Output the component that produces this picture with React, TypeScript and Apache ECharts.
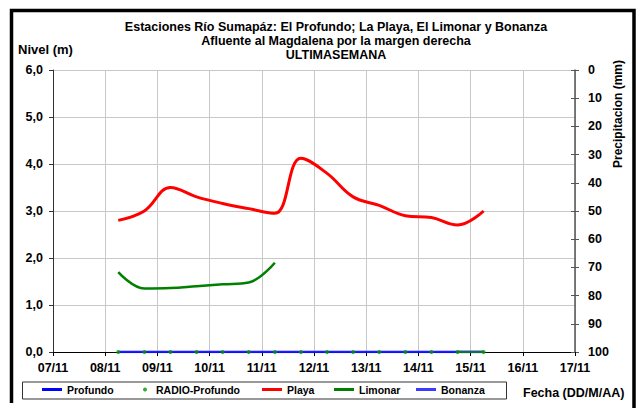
import React, { useEffect, useRef } from "react";
import * as echarts from "echarts";

const titleLines = [
  "Estaciones Río Sumapáz: El Profundo; La Playa, El Limonar y Bonanza",
  "Afluente al Magdalena por la margen derecha",
  "ULTIMASEMANA",
];
const dayLabels = ["07/11", "08/11", "09/11", "10/11", "11/11", "12/11", "13/11", "14/11", "15/11", "16/11", "17/11"];
const startTime = "2023-11-07 00:00";
const times = [
  "2023-11-08 06:00", "2023-11-08 18:00", "2023-11-09 06:00", "2023-11-09 18:00",
  "2023-11-10 06:00", "2023-11-10 18:00", "2023-11-11 06:00", "2023-11-11 18:00",
  "2023-11-12 06:00", "2023-11-12 18:00", "2023-11-13 06:00", "2023-11-13 18:00",
  "2023-11-14 06:00", "2023-11-14 18:00", "2023-11-15 06:00",
];
const profundo = [0, 0, 0, 0, 0, 0, 0, 0, 0, 0, 0, 0, 0, 0, 0];
const radioProfundo = [0, 0, 0, 0, 0, 0, 0, 0, 0, 0, 0, 0, 0, 0, 0];
const playa = [2.8, 3.0, 3.5, 3.3, 3.16, 3.05, 2.95, 4.12, 3.8, 3.3, 3.12, 2.9, 2.86, 2.7, 3.0];
const limonar = [1.7, 1.35, 1.36, 1.4, 1.44, 1.48, 1.9, null, null, null, null, null, null, 0, 0];
const bonanza = [0, 0, 0, 0, 0, 0, 0, 0, 0, 0, 0, 0, 0, 0, 0];
const levelTicks = { min: 0, max: 6, step: 1 };
const rainTicks = { min: 0, max: 100, step: 10 };

const DAY = 86400000;
const toDate = (s: string) => {
  const [d, t] = s.split(" ");
  const [y, m, dd] = d.split("-").map(Number);
  const [hh, mm] = t.split(":").map(Number);
  return new Date(y, m - 1, dd, hh, mm).getTime();
};
const t0 = toDate(startTime);
const xs = times.map((t) => (toDate(t) - t0) / DAY);
const pts = (vals: (number | null)[]) => vals.map((v, i) => [xs[i], v]);

const FONT = "'Liberation Sans', Arial, sans-serif";

export default function App() {
  const ref = useRef<HTMLDivElement>(null);
  useEffect(() => {
    document.body.style.margin = "0";
    const chart = echarts.init(ref.current!, null, { renderer: "svg" });
    const legendBase = {
      top: 384,
      itemWidth: 20,
      itemHeight: 3,
      icon: "rect",
      textStyle: { fontFamily: FONT, fontWeight: "bold", fontSize: 10.5, color: "#000" },
      selectedMode: false,
      padding: 0,
    };
    const rainAxisBase = {
      type: "value",
      position: "right",
      inverse: true,
      min: rainTicks.min,
      max: rainTicks.max,
      interval: rainTicks.step,
      splitLine: { show: false },
    };
    chart.setOption({
      animation: false,
      backgroundColor: "#fff",
      textStyle: { fontFamily: FONT },
      title: {
        text: titleLines.join("\n"),
        left: 331,
        top: 15,
        textAlign: "center",
        textStyle: { fontFamily: FONT, fontWeight: "bold", fontSize: 12.5, lineHeight: 14, color: "#000" },
      },
      grid: { left: 53, right: 65, top: 70, bottom: 56 },
      legend: [
        { ...legendBase, left: 42, data: ["Profundo"] },
        { ...legendBase, left: 143, itemWidth: 12, itemHeight: 4, icon: "circle", data: ["RADIO-Profundo"] },
        { ...legendBase, left: 262, data: ["Playa"] },
        { ...legendBase, left: 334, data: ["Limonar"] },
        { ...legendBase, left: 416, data: ["Bonanza"] },
      ],
      xAxis: {
        type: "value",
        min: 0,
        max: dayLabels.length - 1,
        interval: 1,
        axisLine: { show: true, onZero: false, lineStyle: { color: "#000", width: 1 } },
        axisTick: { show: true, length: 4, lineStyle: { color: "#000" } },
        splitLine: { show: true, lineStyle: { color: "#c8c8c8", width: 1 } },
        axisLabel: {
          margin: 9,
          fontFamily: FONT,
          fontWeight: "bold",
          fontSize: 12.5,
          color: "#000",
          formatter: (v: number) => dayLabels[Math.round(v)] ?? "",
        },
      },
      yAxis: [
        {
          type: "value",
          min: levelTicks.min,
          max: levelTicks.max,
          interval: levelTicks.step,
          axisLine: { show: true, lineStyle: { color: "#333", width: 1 } },
          axisTick: { show: true, length: 4, lineStyle: { color: "#333" } },
          splitLine: { show: true, lineStyle: { color: "#c8c8c8", width: 1 } },
          axisLabel: {
            margin: 10,
            fontFamily: FONT,
            fontWeight: "bold",
            fontSize: 12.5,
            color: "#000",
            formatter: (v: number) => v.toFixed(1).replace(".", ","),
          },
        },
        {
          ...rainAxisBase,
          axisLine: { show: true, lineStyle: { color: "#555", width: 1.5 } },
          axisTick: { show: true, length: 4, lineStyle: { color: "#555" } },
          axisLabel: {
            margin: 13,
            fontFamily: FONT,
            fontWeight: "bold",
            fontSize: 12.5,
            color: "#000",
          },
        },
        {
          ...rainAxisBase,
          axisLine: { show: false },
          axisTick: { show: true, inside: true, length: 4, lineStyle: { color: "#555" } },
          axisLabel: { show: false },
        },
      ],
      graphic: [
        {
          type: "polyline",
          shape: { points: [[11.5, 403], [11.5, 10.5], [634, 10.5], [634, 408]] },
          style: { stroke: "#000", lineWidth: 3.5, fill: "none" },
          z: 100,
        },
        {
          type: "rect",
          shape: { x: 22.5, y: 382, width: 484, height: 17 },
          style: { stroke: "#333", lineWidth: 1, fill: "#fff" },
          z: -1,
        },
        {
          type: "text",
          x: 18,
          y: 49,
          style: { text: "Nivel (m)", fontFamily: FONT, fontWeight: "bold", fontSize: 13, fill: "#000", textVerticalAlign: "middle" },
        },
        {
          type: "text",
          x: 618,
          y: 114,
          rotation: Math.PI / 2,
          style: {
            text: "Precipitacion (mm)",
            fontFamily: FONT,
            fontWeight: "bold",
            fontSize: 12,
            fill: "#000",
            textAlign: "center",
            textVerticalAlign: "middle",
          },
        },
        {
          type: "text",
          x: 523,
          y: 393,
          style: { text: "Fecha (DD/M/AA)", fontFamily: FONT, fontWeight: "bold", fontSize: 12.5, fill: "#000", textVerticalAlign: "middle" },
        },
      ],
      series: [
        {
          name: "Profundo",
          type: "line",
          data: pts(profundo),
          showSymbol: false,
          lineStyle: { color: "#0000ff", width: 2.5 },
          itemStyle: { color: "#0000ff" },
        },
        {
          name: "RADIO-Profundo",
          type: "scatter",
          data: pts(radioProfundo),
          symbol: "circle",
          symbolSize: 4,
          itemStyle: { color: "#009900" },
          z: 5,
        },
        {
          name: "Playa",
          type: "line",
          data: pts(playa),
          smooth: 0.4,
          showSymbol: false,
          lineStyle: { color: "#ff0000", width: 3 },
          itemStyle: { color: "#ff0000" },
        },
        {
          name: "Limonar",
          type: "line",
          data: pts(limonar),
          smooth: 0.4,
          showSymbol: false,
          connectNulls: false,
          lineStyle: { color: "#008000", width: 2.5 },
          itemStyle: { color: "#008000" },
        },
        {
          name: "Bonanza",
          type: "line",
          data: pts(bonanza),
          showSymbol: false,
          lineStyle: { color: "#3c3cff", width: 1 },
          itemStyle: { color: "#3c3cff" },
        },
      ],
    });
    return () => chart.dispose();
  }, []);
  return <div ref={ref} style={{ width: 640, height: 408 }} />;
}
